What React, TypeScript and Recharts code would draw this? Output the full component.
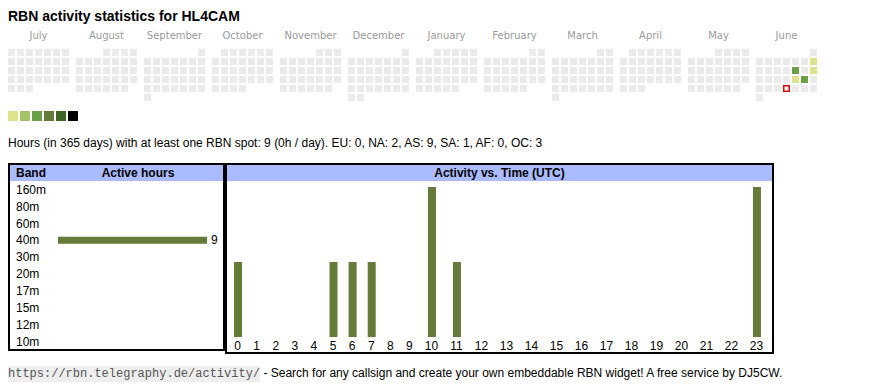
import { Bar, BarChart, LabelList, Scatter, ScatterChart, XAxis, YAxis } from 'recharts';

const MONTHS = ['July', 'August', 'September', 'October', 'November', 'December', 'January', 'February', 'March', 'April', 'May', 'June'];
const MONTH_KEYS = ['2024-07', '2024-08', '2024-09', '2024-10', '2024-11', '2024-12', '2025-01', '2025-02', '2025-03', '2025-04', '2025-05', '2025-06'];

const ACTIVE_DAYS = ['2025-06-08', '2025-06-13', '2025-06-15', '2025-06-20', '2025-06-21'];
const ACTIVE_LEVELS = [1, 3, 1, 1, 3];
const TODAY = '2025-06-26';

const LEVEL_COLORS = ['#dde38b', '#a1c467', '#6a9f45', '#667a3a', '#3c6526', '#000000'];
const EMPTY_COLOR = '#ebebeb';

const BANDS = ['160m', '80m', '60m', '40m', '30m', '20m', '17m', '15m', '12m', '10m'];
const BAND_HOURS = [0, 0, 0, 9, 0, 0, 0, 0, 0, 0];

const HOURS = ['0', '1', '2', '3', '4', '5', '6', '7', '8', '9', '10', '11', '12', '13', '14', '15', '16', '17', '18', '19', '20', '21', '22', '23'];
const HOUR_SPOTS = [1, 0, 0, 0, 0, 1, 1, 1, 0, 0, 2, 1, 0, 0, 0, 0, 0, 0, 0, 0, 0, 0, 0, 2];

const BAR_COLOR = '#667a3a';
const HEADER_BG = '#aabbff';
const FONT = 'Arial, "Liberation Sans", sans-serif';

// months sit in blocks of 7 weekday columns, with a small gap between blocks
const MONTH_STRIDE = 68 / 9;

interface DayCellDatum {
  date: string;
  col: number;
  row: number;
  level: number;
}

function buildCalendar() {
  const cells: DayCellDatum[] = [];
  MONTH_KEYS.forEach((key, m) => {
    const [y, mo] = key.split('-').map(Number);
    const offset = (new Date(Date.UTC(y, mo - 1, 1)).getUTCDay() + 6) % 7;
    const days = new Date(Date.UTC(y, mo, 0)).getUTCDate();
    for (let d = 0; d < days; d++) {
      const date = `${key}-${String(d + 1).padStart(2, '0')}`;
      const idx = ACTIVE_DAYS.indexOf(date);
      cells.push({
        date,
        col: m * MONTH_STRIDE + ((offset + d) % 7),
        row: Math.floor((offset + d) / 7),
        level: idx >= 0 ? ACTIVE_LEVELS[idx] : 0
      });
    }
  });
  return cells;
}

const calendar = buildCalendar();
const monthTicks = MONTHS.map((_, m) => m * MONTH_STRIDE + 3);

// table columns are as wide as their label, like an auto-sized html table
const slotWidth = (label: string) => 13.2 + 5.9 * label.length;
let acc = 0;
const hourData = HOURS.map((hour, i) => {
  const w = slotWidth(hour);
  const pos = acc + w / 2;
  acc += w;
  return { hour, pos, spots: HOUR_SPOTS[i] };
});
const HOUR_TOTAL = acc;

const bandData = BANDS.map((band, i) => ({ band, hours: BAND_HOURS[i] }));

function DayCell(props: any) {
  const { cx, cy, payload } = props;
  if (payload.date === TODAY) {
    return <rect x={cx - 2.75} y={cy - 2.75} width={5.5} height={5.5} fill="#fff" stroke="#e00000" strokeWidth={1.5} />;
  }
  return (
    <rect
      x={cx - 3.5}
      y={cy - 3.5}
      width={7}
      height={7}
      fill={payload.level ? LEVEL_COLORS[payload.level - 1] : EMPTY_COLOR}
    />
  );
}

const boxStyle: React.CSSProperties = {
  position: 'absolute',
  border: '2px solid #000',
  boxSizing: 'border-box',
  background: '#fff'
};

const headerStyle: React.CSSProperties = {
  position: 'relative',
  height: 16,
  background: HEADER_BG,
  fontWeight: 'bold',
  fontSize: 12,
  lineHeight: '16px'
};

export default function App() {
  return (
    <div style={{ position: 'relative', width: 854, height: 374, fontFamily: FONT, color: '#000' }}>
      <div style={{ position: 'absolute', left: 0, top: 0, fontSize: 14, fontWeight: 'bold', lineHeight: '16px' }}>
        RBN activity statistics for HL4CAM
      </div>

      <div style={{ position: 'absolute', left: -1, top: 14 }}>
        <ScatterChart width={819} height={80} margin={{ top: 0, right: 0, bottom: 0, left: 0 }}>
          <XAxis
            type="number"
            dataKey="col"
            orientation="top"
            domain={[-0.5, 90.5]}
            ticks={monthTicks}
            interval={0}
            tickFormatter={(_v, i) => MONTHS[i]}
            axisLine={false}
            tickLine={false}
            tickSize={0}
            tickMargin={9}
            height={26}
            tick={{ fill: '#9a9a9a', fontSize: 10, fontFamily: '"DejaVu Sans", sans-serif' }}
          />
          <YAxis type="number" dataKey="row" domain={[-0.5, 5.5]} reversed hide />
          <Scatter data={calendar} shape={DayCell} isAnimationActive={false} />
        </ScatterChart>
      </div>

      <div style={{ position: 'absolute', left: 0, top: 103, display: 'flex', gap: 2 }}>
        {LEVEL_COLORS.map((c) => (
          <div key={c} style={{ width: 10, height: 10, background: c }} />
        ))}
      </div>

      <div style={{ position: 'absolute', left: 0, top: 128, fontSize: 12, lineHeight: '15px', whiteSpace: 'nowrap' }}>
        Hours (in 365 days) with at least one RBN spot: 9 (0h / day). EU: 0, NA: 2, AS: 9, SA: 1, AF: 0, OC: 3
      </div>

      <div style={{ ...boxStyle, left: 0, top: 155, width: 217, height: 188 }}>
        <div style={headerStyle}>
          <span style={{ position: 'absolute', left: 6 }}>Band</span>
          <span style={{ position: 'absolute', left: 48, width: 160, textAlign: 'center' }}>Active hours</span>
        </div>
        <BarChart
          width={213}
          height={169}
          layout="vertical"
          data={bandData}
          margin={{ top: 0, right: 16, bottom: 0, left: 0 }}
        >
          <XAxis type="number" hide domain={[0, 'dataMax']} />
          <YAxis
            type="category"
            dataKey="band"
            width={48}
            interval={0}
            axisLine={false}
            tickLine={false}
            tickSize={0}
            tickMargin={0}
            tick={{ textAnchor: 'start', dx: -42, fill: '#000', fontSize: 12, fontFamily: FONT }}
          />
          <Bar dataKey="hours" fill={BAR_COLOR} barSize={7} isAnimationActive={false}>
            <LabelList
              dataKey="hours"
              position="right"
              offset={4}
              formatter={(v: any) => (v ? v : '')}
              fill="#000"
              fontSize={12}
              fontFamily={FONT}
            />
          </Bar>
        </BarChart>
      </div>

      <div style={{ ...boxStyle, left: 217, top: 155, width: 549, height: 191 }}>
        <div style={{ ...headerStyle, textAlign: 'center' }}>Activity vs. Time (UTC)</div>
        <BarChart width={545} height={171} data={hourData} margin={{ top: 6, right: 3, bottom: 0, left: 1 }}>
          <XAxis
            type="number"
            dataKey="pos"
            domain={[0, HOUR_TOTAL]}
            ticks={hourData.map((d) => d.pos)}
            interval={0}
            tickFormatter={(_v, i) => HOURS[i]}
            axisLine={false}
            tickLine={false}
            tickSize={0}
            tickMargin={4}
            height={15}
            tick={{ fill: '#000', fontSize: 12, fontFamily: FONT }}
          />
          <YAxis hide domain={[0, 'dataMax']} />
          <Bar dataKey="spots" fill={BAR_COLOR} barSize={8} isAnimationActive={false} />
        </BarChart>
      </div>

      <div style={{ position: 'absolute', left: 0, top: 358, fontSize: 12, lineHeight: '15px', whiteSpace: 'nowrap' }}>
        <code
          style={{
            fontFamily: '"Liberation Mono", monospace',
            fontSize: 12,
            color: '#555',
            background: '#eeeeee',
            padding: '1px 0'
          }}
        >
          https://rbn.telegraphy.de/activity/
        </code>{' '}
        - Search for any callsign and create your own embeddable RBN widget! A free service by DJ5CW.
      </div>
    </div>
  );
}
